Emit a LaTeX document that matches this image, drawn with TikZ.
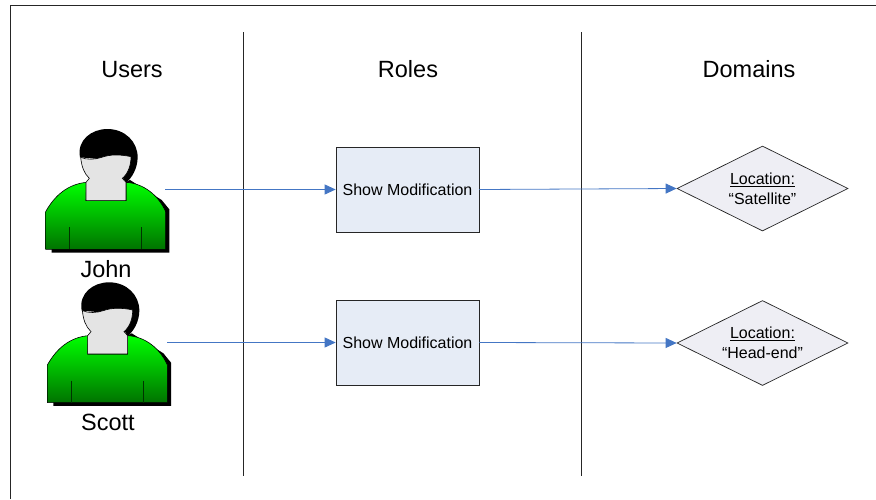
\documentclass[tikz,border=0pt]{standalone}
\usepackage{fontspec}
\setmainfont{Liberation Sans}
\usetikzlibrary{shapes.geometric,arrows.meta}
\definecolor{linkblue}{HTML}{4476C4}
\definecolor{boxfill}{HTML}{E6ECF6}
\definecolor{dmdfill}{HTML}{EEEEF4}
\definecolor{facegray}{HTML}{E4E4E4}
\tikzset{
  rolebox/.style={draw=black!85,line width=0.7pt,fill=boxfill,minimum width=143pt,minimum height=85pt,inner sep=0pt,font=\fontsize{16}{19}\selectfont},
  domainshape/.style={diamond,aspect=2,draw=black!85,line width=0.7pt,fill=dmdfill,minimum width=171pt,minimum height=85pt,inner sep=0pt,align=center,font=\fontsize{16}{20}\selectfont},
  heading/.style={font=\fontsize{23.5}{28}\selectfont,inner sep=0pt},
  link/.style={draw=linkblue,line width=0.8pt,-{Triangle[length=11pt,width=10pt]}},
  divider/.style={draw=black!85,line width=1pt},
  person/.pic={
    % shadow
    \fill[black] (65,398) -- (418,398) -- (418,268) -- (395,240) -- (300,180) -- (65,300) -- cycle;
    % body
    \draw[black,line width=0.6pt,top color=green,bottom color=green!45!black]
      (47,388) -- (47,275) .. controls (75,225) and (115,192) .. (170,187) -- (168,242) -- (288,242) -- (288,187)
      .. controls (340,190) and (385,225) .. (407,275) -- (407,388) -- cycle;
    \draw[black!80!green,line width=0.7pt] (119,322) -- (119,388) (335,322) -- (335,388);
    % hair
    \fill[black] (150,112) .. controls (140,60) and (185,27) .. (232,27)
      .. controls (285,27) and (323,65) .. (323,112)
      .. controls (323,145) and (305,175) .. (288,188) -- (270,160) -- (240,120) -- cycle;
    % face and neck
    \draw[black,line width=0.6pt,fill=facegray]
      (152,112) .. controls (155,140) and (162,160) .. (178,175) -- (168,187) -- (168,242) -- (288,242) -- (288,187)
      -- (277,175) .. controls (295,160) and (303,135) .. (303,110)
      .. controls (270,103) and (240,103) .. (215,112) .. controls (195,119) and (170,120) .. (152,112) -- cycle;
  }
}
\begin{document}
\begin{tikzpicture}[x=1pt,y=-1pt]
\useasboundingbox (0,0) rectangle (876,499);
\draw[draw=black!85,line width=1.2pt] (10.5,499) -- (10.5,5.5) -- (876,5.5);
\coordinate (divAtop) at (243,32);
\coordinate (divAbot) at (243,476);
\coordinate (divBtop) at (581,32);
\coordinate (divBbot) at (581,476);
\draw[divider] (divAtop) -- (divAbot);
\draw[divider] (divBtop) -- (divBbot);
\node[heading] (users) at (132,69.5) {Users};
\node[heading] (roles) at (408,69.5) {Roles};
\node[heading] (domains) at (749,69.5) {Domains};
\begin{scope}[shift={(30,120)},x=0.3333pt,y=-0.3333pt]
\pic at (0,0) {person};
\end{scope}
\begin{scope}[shift={(31.7,273.3)},x=0.3333pt,y=-0.3333pt]
\pic at (0,0) {person};
\end{scope}
\node[heading] (john) at (106,269.5) {John};
\node[heading] (scott) at (108,422.5) {Scott};
\node[rolebox] (roleA) at (407.5,189.5) {Show Modification};
\node[rolebox] (roleB) at (407.5,342.5) {Show Modification};
\node[domainshape] (domA) at (762.5,188.5) {\underline{Location:}\\“Satellite”};
\node[domainshape] (domB) at (762.5,343) {\underline{Location:}\\“Head-end”};
\coordinate (userA) at (165,189.5);
\coordinate (userB) at (167,342.5);
\draw[link] (userA) -- (roleA.west);
\draw[link] (userB) -- (roleB.west);
\draw[link] (roleA.east) -- (domA.west);
\draw[link] (roleB.east) -- (domB.west);
\end{tikzpicture}
\end{document}
